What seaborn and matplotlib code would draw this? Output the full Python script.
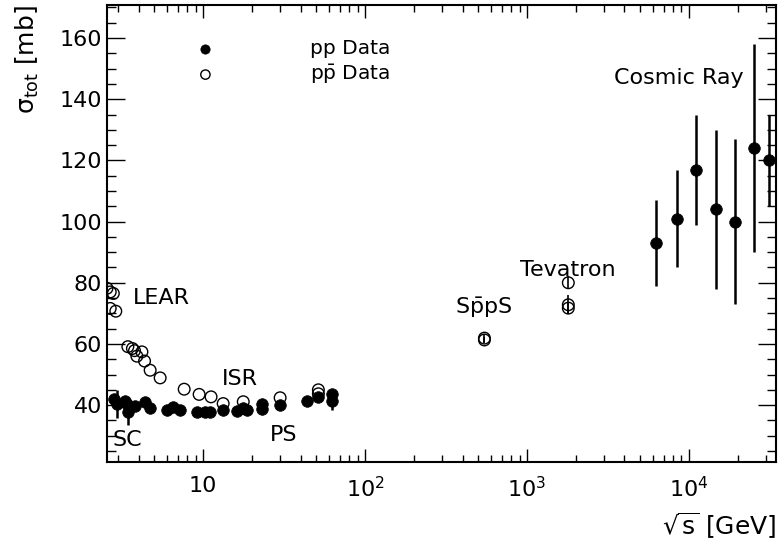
import matplotlib
matplotlib.use("Agg")
import matplotlib.pyplot as plt
import seaborn as sns
import pandas as pd
from matplotlib.ticker import FixedLocator, FixedFormatter, AutoMinorLocator, LogLocator, NullFormatter

# pp data (filled): sqrt(s) [GeV], sigma_tot [mb], error [mb]
pp_sqrt_s = [2.83, 2.93, 3.30, 3.38, 3.46, 3.80, 4.39, 4.71, 5.97, 6.56, 7.21, 9.15,
             10.3, 11.0, 13.3, 16.1, 17.7, 18.6, 23.2, 23.2, 29.9, 43.6, 51.5, 62.3, 62.3]
pp_sigma = [41.9, 40.3, 41.4, 40.5, 37.8, 39.7, 41.0, 39.2, 38.5, 39.3, 38.3, 37.8,
            37.8, 37.8, 38.4, 38.2, 39.1, 38.5, 40.4, 38.6, 40.0, 41.2, 42.6, 43.6, 41.5]
pp_err = [0.5, 4.6, 0.5, 0.5, 4.3, 0.5, 0.5, 0.5, 0.5, 0.5, 0.5, 0.5,
          0.5, 0.5, 0.5, 0.5, 0.5, 0.5, 0.5, 0.5, 0.5, 0.5, 0.5, 0.5, 3.0]

# cosmic ray pp data (filled, large errors)
cr_sqrt_s = [6300, 8400, 11000, 14600, 19200, 25300, 31200]
cr_sigma = [93, 101, 117, 104, 100, 124, 120]
cr_err = [14, 16, 18, 26, 27, 34, 15]

# ppbar data (open)
pbar_sqrt_s = [2.55, 2.67, 2.79, 2.67, 2.89, 3.43, 3.66, 3.77, 3.90, 4.19, 4.35, 4.71,
               5.43, 7.64, 9.45, 11.2, 13.3, 17.7, 29.9, 51.5, 51.5,
               546, 546, 1800, 1800, 1800]
pbar_sigma = [78.2, 77.0, 76.5, 71.6, 70.7, 59.1, 58.5, 57.8, 56.0, 57.4, 54.4, 51.4,
              48.9, 45.2, 43.5, 42.7, 40.5, 41.1, 42.4, 45.0, 43.7,
              61.9, 61.3, 80.0, 72.8, 71.7]
pbar_err = [0, 0, 0, 0, 0, 0, 0, 0, 0, 0, 0, 0,
            0, 0, 0, 0, 0, 0, 0, 0, 0,
            1.5, 0.9, 2.2, 3.1, 2.0]

# labels for the experiments
exp_names = ["LEAR", "ISR", "SC", "PS", r"S$\mathregular{\bar{p}}$pS", "Tevatron", "Cosmic Ray"]
exp_x = [3.7, 13.1, 2.74, 25.9, 359, 906, 3443]
exp_y = [75, 48.5, 28.6, 30.2, 71.7, 84.1, 146.9]

xtick_pos = [10, 100, 1000, 10000]
xtick_labels = ["10", r"$10^{2}$", r"$10^{3}$", r"$10^{4}$"]


def make_frames():
    pp = pd.DataFrame({"sqrt_s": pp_sqrt_s + cr_sqrt_s,
                       "sigma": pp_sigma + cr_sigma,
                       "err": pp_err + cr_err})
    pbar = pd.DataFrame({"sqrt_s": pbar_sqrt_s, "sigma": pbar_sigma, "err": pbar_err})
    return pp, pbar


def plotting(pp, pbar):
    sns.set_style("ticks")
    plt.rcParams["font.family"] = ["DejaVu Sans"]
    plt.rcParams["mathtext.fontset"] = "dejavusans"
    plt.rcParams["mathtext.default"] = "regular"
    plt.rcParams["text.color"] = "black"
    plt.rcParams["axes.labelcolor"] = "black"

    fig = plt.figure(figsize=(7.8, 5.46), dpi=100)
    ax = fig.add_axes([107 / 780, 84 / 546, 669 / 780, 457 / 546])

    # error bars first, markers on top
    ax.errorbar(pbar["sqrt_s"], pbar["sigma"], yerr=pbar["err"], fmt="none",
                ecolor="black", elinewidth=1.2, capsize=0, zorder=2)
    ax.errorbar(pp["sqrt_s"], pp["sigma"], yerr=pp["err"], fmt="none",
                ecolor="black", elinewidth=1.8, capsize=0, zorder=3)

    sns.scatterplot(data=pbar, x="sqrt_s", y="sigma", ax=ax, marker="o", s=70,
                    facecolor="none", edgecolor="black", linewidth=1.0,
                    label=r"p$\mathregular{\bar{p}}$ Data", zorder=4)
    sns.scatterplot(data=pp, x="sqrt_s", y="sigma", ax=ax, marker="o", s=70,
                    color="black", edgecolor="black", linewidth=0.5,
                    label="pp Data", zorder=5)

    ax.set_xscale("log")
    ax.set_xlim(2.55, 34500)
    ax.set_ylim(21.4, 170.8)

    ax.xaxis.set_major_locator(FixedLocator(xtick_pos))
    ax.xaxis.set_major_formatter(FixedFormatter(xtick_labels))
    ax.xaxis.set_minor_locator(LogLocator(base=10, subs=range(2, 10), numticks=20))
    ax.xaxis.set_minor_formatter(NullFormatter())
    ax.yaxis.set_major_locator(FixedLocator([40, 60, 80, 100, 120, 140, 160]))
    ax.yaxis.set_minor_locator(AutoMinorLocator(4))

    ax.tick_params(which="both", direction="in", top=True, right=True,
                   labelsize=16, colors="black", width=1.0)
    ax.tick_params(axis="x", which="major", length=9.5, pad=10)
    ax.tick_params(axis="x", which="minor", length=5)
    ax.tick_params(axis="y", which="major", length=13)
    ax.tick_params(axis="y", which="minor", length=6.5)
    for sp in ax.spines.values():
        sp.set_linewidth(1.5)
        sp.set_color("black")

    ax.set_xlabel(r"$\sqrt{s}$ [GeV]", fontsize=18, loc="right", labelpad=7)
    ax.set_ylabel(r"$\sigma_{tot}$ [mb]", fontsize=18, loc="top", labelpad=13)

    for name, xx, yy in zip(exp_names, exp_x, exp_y):
        ax.text(xx, yy, name, fontsize=16, ha="left", va="center", color="black")

    handles, labels = ax.get_legend_handles_labels()
    ax.legend(handles[::-1], labels[::-1], loc="upper left", bbox_to_anchor=(0.117, 0.926),
              frameon=False, fontsize=14.5, handlelength=2, handletextpad=4.2,
              borderpad=0, borderaxespad=0, labelspacing=0.25, markerscale=0.8)

    fig.savefig("out.png", dpi=100)


def main():
    pp, pbar = make_frames()
    plotting(pp, pbar)


if __name__ == "__main__":
    main()
